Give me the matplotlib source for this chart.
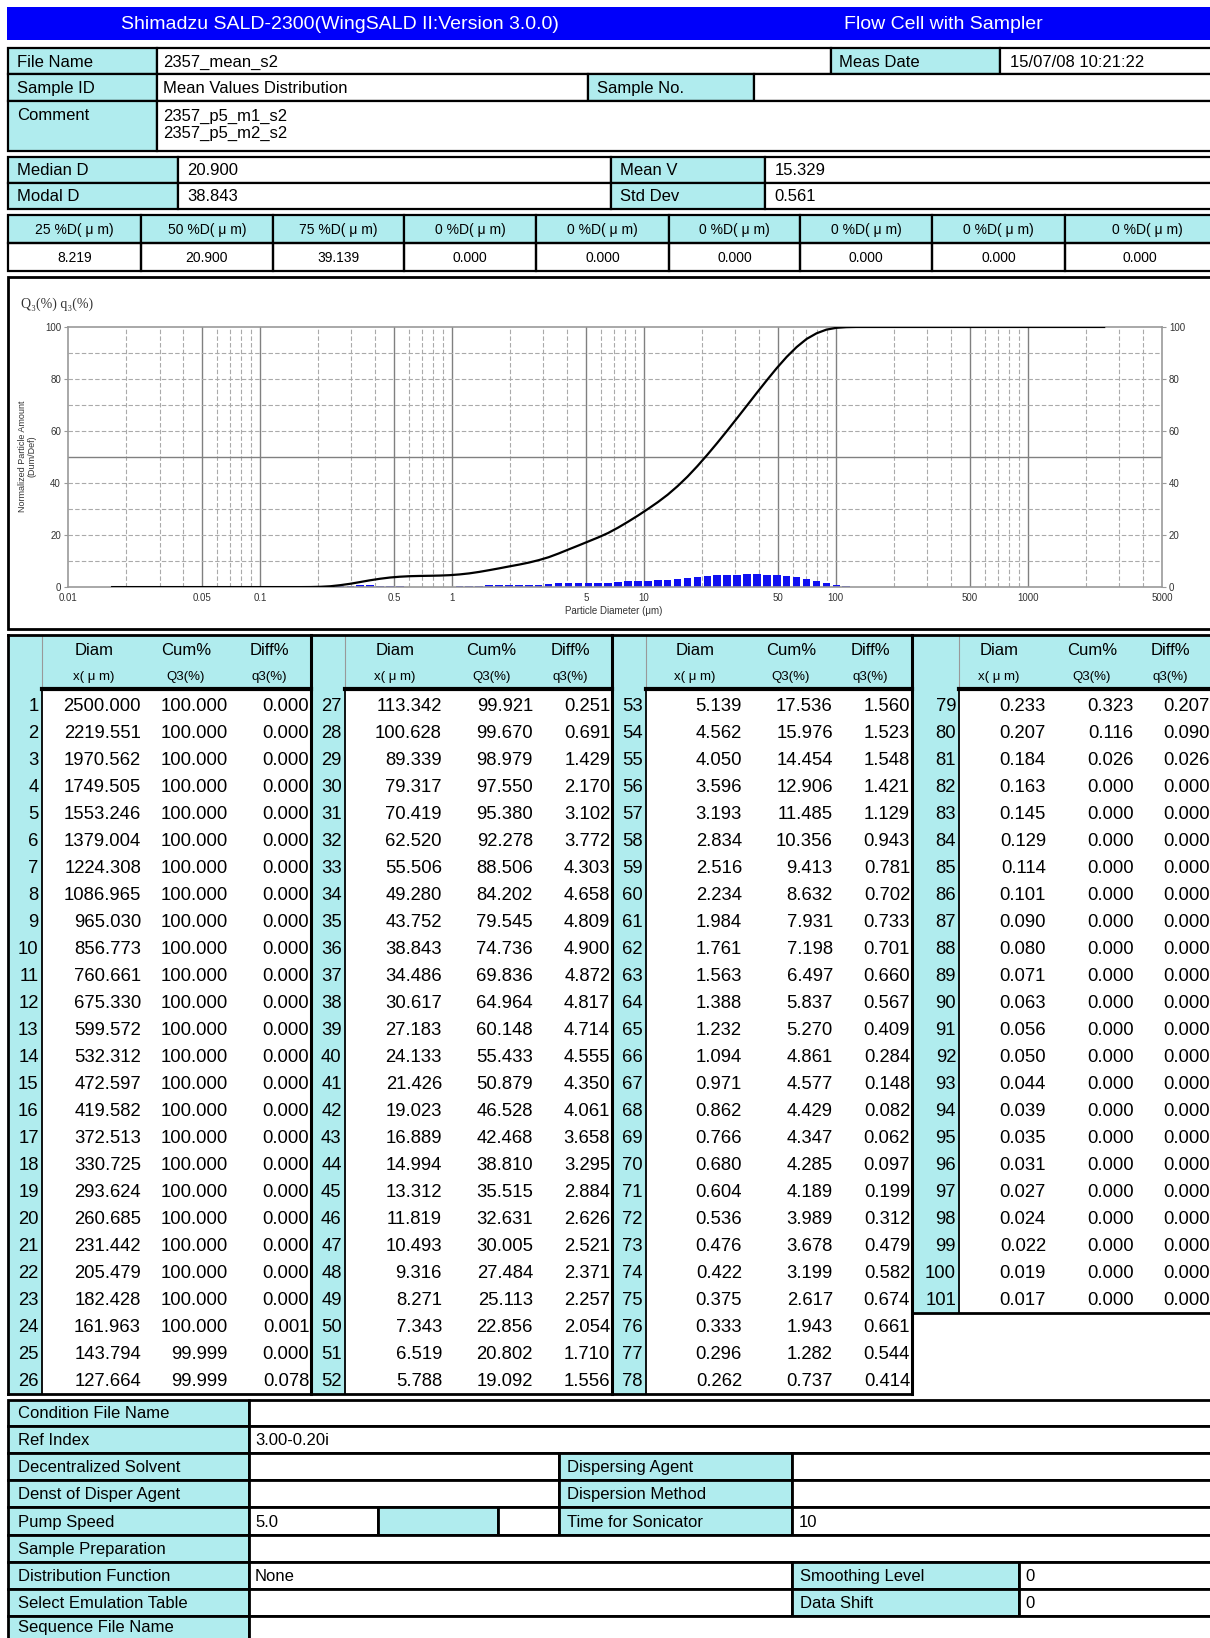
import numpy as np
import matplotlib
matplotlib.use("Agg")
import matplotlib.pyplot as plt
from matplotlib.patches import Rectangle

plt.rcParams['font.family'] = ['Liberation Sans', 'DejaVu Sans']

CYAN = '#b0ecee'
BLUE = '#0000fa'

# --- particle size table (rows 1..101) ---
diam = [2500.000, 2219.551, 1970.562, 1749.505, 1553.246, 1379.004, 1224.308, 1086.965,
        965.030, 856.773, 760.661, 675.330, 599.572, 532.312, 472.597, 419.582, 372.513,
        330.725, 293.624, 260.685, 231.442, 205.479, 182.428, 161.963, 143.794, 127.664,
        113.342, 100.628, 89.339, 79.317, 70.419, 62.520, 55.506, 49.280, 43.752, 38.843,
        34.486, 30.617, 27.183, 24.133, 21.426, 19.023, 16.889, 14.994, 13.312, 11.819,
        10.493, 9.316, 8.271, 7.343, 6.519, 5.788,
        5.139, 4.562, 4.050, 3.596, 3.193, 2.834, 2.516, 2.234, 1.984, 1.761, 1.563, 1.388,
        1.232, 1.094, 0.971, 0.862, 0.766, 0.680, 0.604, 0.536, 0.476, 0.422, 0.375, 0.333,
        0.296, 0.262,
        0.233, 0.207, 0.184, 0.163, 0.145, 0.129, 0.114, 0.101, 0.090, 0.080, 0.071, 0.063,
        0.056, 0.050, 0.044, 0.039, 0.035, 0.031, 0.027, 0.024, 0.022, 0.019, 0.017]
cum = [100.000] * 24 + [99.999, 99.999,
       99.921, 99.670, 98.979, 97.550, 95.380, 92.278, 88.506, 84.202, 79.545, 74.736,
       69.836, 64.964, 60.148, 55.433, 50.879, 46.528, 42.468, 38.810, 35.515, 32.631,
       30.005, 27.484, 25.113, 22.856, 20.802, 19.092,
       17.536, 15.976, 14.454, 12.906, 11.485, 10.356, 9.413, 8.632, 7.931, 7.198, 6.497,
       5.837, 5.270, 4.861, 4.577, 4.429, 4.347, 4.285, 4.189, 3.989, 3.678, 3.199, 2.617,
       1.943, 1.282, 0.737,
       0.323, 0.116, 0.026] + [0.000] * 20
diff = [0.000] * 23 + [0.001, 0.000, 0.078,
        0.251, 0.691, 1.429, 2.170, 3.102, 3.772, 4.303, 4.658, 4.809, 4.900, 4.872, 4.817,
        4.714, 4.555, 4.350, 4.061, 3.658, 3.295, 2.884, 2.626, 2.521, 2.371, 2.257, 2.054,
        1.710, 1.556,
        1.560, 1.523, 1.548, 1.421, 1.129, 0.943, 0.781, 0.702, 0.733, 0.701, 0.660, 0.567,
        0.409, 0.284, 0.148, 0.082, 0.062, 0.097, 0.199, 0.312, 0.479, 0.582, 0.674, 0.661,
        0.544, 0.414,
        0.207, 0.090, 0.026] + [0.000] * 20

pct_labels = ["25 %D( μ m)", "50 %D( μ m)", "75 %D( μ m)"] + ["0 %D( μ m)"] * 6
pct_values = ["8.219", "20.900", "39.139"] + ["0.000"] * 6

x_ticks = [0.01, 0.05, 0.1, 0.5, 1, 5, 10, 50, 100, 500, 1000, 5000]
x_tick_labels = ["0.01", "0.05", "0.1", "0.5", "1", "5", "10", "50", "100", "500", "1000", "5000"]

fig = plt.figure(figsize=(12.1, 16.38), dpi=100)
W, H = 1158, 1568
R = W + 20
bg = fig.add_axes([0, 0, 1, 1])
bg.set_xlim(0, W)
bg.set_ylim(H, 0)
bg.axis('off')


def cell(x0, y0, x1, y1, text=None, fill='white', ha='left', pad=8, size=12, lw=1.6,
         ty=None, **kw):
    bg.add_patch(Rectangle((x0, y0), x1 - x0, y1 - y0, facecolor=fill,
                           edgecolor='black', lw=lw))
    if text:
        tx = {'left': x0 + pad, 'right': x1 - pad, 'center': (x0 + x1) / 2}[ha]
        if ty is None:
            ty = (y0 + y1) / 2 + 1
        bg.text(tx, ty, text, ha=ha, va='center', fontsize=size, **kw)


# header bar
bg.add_patch(Rectangle((7, 7), R, 31, facecolor=BLUE, edgecolor='none'))
bg.text(325, 23, "Shimadzu SALD-2300(WingSALD II:Version 3.0.0)", color='white',
        fontsize=14, ha='center', va='center')
bg.text(903, 23, "Flow Cell with Sampler", color='white', fontsize=14,
        ha='center', va='center')

# file info
cell(8, 46, 150, 71, "File Name", CYAN)
cell(150, 46, 795, 71, "2357_mean_s2", pad=6)
cell(795, 46, 957, 71, "Meas Date", CYAN)
cell(957, 46, R, 71, "15/07/08 10:21:22", pad=10)
cell(8, 71, 150, 97, "Sample ID", CYAN)
cell(150, 71, 563, 97, "Mean Values Distribution", pad=6)
cell(563, 71, 722, 97, "Sample No.", CYAN)
cell(722, 71, R, 97)
cell(8, 97, 150, 145, None, CYAN)
bg.text(16, 111, "Comment", fontsize=12, va='center')
cell(150, 97, R, 145)
bg.text(156, 111, "2357_p5_m1_s2", fontsize=12, va='center')
bg.text(156, 128, "2357_p5_m2_s2", fontsize=12, va='center')

# median / mean
cell(8, 150, 170, 175, "Median D", CYAN)
cell(170, 150, 585, 175, "20.900", pad=9)
cell(585, 150, 732, 175, "Mean V", CYAN)
cell(732, 150, R, 175, "15.329", pad=9)
cell(8, 175, 170, 200, "Modal D", CYAN)
cell(170, 175, 585, 200, "38.843", pad=9)
cell(585, 175, 732, 200, "Std Dev", CYAN)
cell(732, 175, R, 200, "0.561", pad=9)

# percentile diameters
edges = [8, 135, 261, 387, 513, 640, 766, 892, 1019, R]
for i in range(9):
    cell(edges[i], 206, edges[i + 1], 233, pct_labels[i], CYAN,
         ha='center', size=10)
    bg.text((edges[i] + (edges[i + 1] if i < 8 else 1162)) / 2, 247, pct_values[i],
            ha='center', va='center', fontsize=10)
    bg.add_patch(Rectangle((edges[i], 233), edges[i + 1] - edges[i], 26,
                           facecolor='none', edgecolor='black', lw=1.6))

# chart frame
bg.add_patch(Rectangle((8, 265), R, 337, facecolor='white', edgecolor='black', lw=2))
bg.text(20, 291, "Q₃(%) q₃(%)", fontsize=10, va='center', color='#333333',
        family=['Liberation Serif', 'DejaVu Serif'])
bg.text(26, 437, "Normalized Particle Amount\n(Dum/Def)", rotation=90, fontsize=6.5,
        ha='center', va='center', color='#333333', linespacing=1.0)
bg.text(587, 585, "Particle Diameter (μm)", fontsize=7, ha='center', va='center',
        color='#333333')

ax = fig.add_axes([65 / W, 1 - 562 / H, (1112 - 65) / W, (562 - 313) / H])
ax.set_xscale('log')
ax.set_xlim(0.01, 5000)
ax.set_ylim(0, 100)

solid = {0.05, 0.1, 0.5, 1, 5, 10, 50, 100, 500, 1000}
for dec in [0.01, 0.1, 1, 10, 100, 1000]:
    for m in range(1, 10):
        v = round(m * dec, 6)
        if v <= 0.01 or v >= 5000:
            continue
        if v in solid:
            ax.axvline(v, color='#808080', lw=1.0, zorder=0)
        else:
            ax.axvline(v, color='#aaaaaa', lw=0.8, ls=(0, (4, 2)), zorder=0)
for yv in range(10, 100, 10):
    if yv == 50:
        ax.axhline(yv, color='#808080', lw=1.0, zorder=0)
    else:
        ax.axhline(yv, color='#aaaaaa', lw=0.8, ls=(0, (4, 2)), zorder=0)

d = np.array(diam)
ratio = np.mean(d[:-1] / d[1:])
lo = d * ratio ** -0.38
hi = d * ratio ** 0.38
ax.bar(lo, diff, width=hi - lo, align='edge', color='#1010f0', zorder=2)

order = np.argsort(d)
ax.plot(d[order], np.array(cum)[order], color='black', lw=1.6, zorder=3)

for s in ax.spines.values():
    s.set_color('#999999')
    s.set_linewidth(1.2)
ax.set_xticks(x_ticks)
ax.set_xticklabels(x_tick_labels)
ax.xaxis.set_minor_locator(plt.NullLocator())
ax.set_yticks(range(0, 101, 20))
ax.tick_params(axis='x', length=0, labelsize=7, pad=4, labelcolor='#333333')
ax.tick_params(axis='y', length=3, labelsize=7, right=True, labelright=True,
               color='#999999', pad=2, labelcolor='#333333')

# data table
top, hmid, hbot, bot = 608, 635, 660, 1334
row_h = (bot - 662) / 26
bg.add_patch(Rectangle((8, top), R, hbot - top, facecolor=CYAN, edgecolor='none'))
idx_x0 = [8, 298, 586, 873]
idx_x1 = [40, 330, 618, 918]
data_x1 = [298, 586, 873, R]
val_r = [(135, 218, 296), (423, 510, 584), (710, 797, 871), (1001, 1085, 1158)]
for g in range(4):
    n = 26 if g < 3 else 23
    start = g * 26
    yb = 662 + n * row_h
    bg.add_patch(Rectangle((idx_x0[g], hbot), idx_x1[g] - idx_x0[g], yb - hbot,
                           facecolor=CYAN, edgecolor='none'))
    bg.plot([idx_x1[g], idx_x1[g]], [hbot, yb], color='black', lw=1.3)
    bg.plot([idx_x1[g], idx_x1[g]], [top, hbot], color='#999999', lw=0.8)
    bg.plot([idx_x1[g], data_x1[g]], [hbot, hbot], color='black', lw=3)
    dr, cr, fr = val_r[g]
    bg.text(dr - 45, (top + hmid) / 2 + 1, "Diam", ha='center', va='center', fontsize=12)
    bg.text(cr - 40, (top + hmid) / 2 + 1, "Cum%", ha='center', va='center', fontsize=12)
    bg.text(fr - 38, (top + hmid) / 2 + 1, "Diff%", ha='center', va='center', fontsize=12)
    bg.text(dr - 45, (hmid + hbot) / 2 + 1, "x( μ m)", ha='center', va='center', fontsize=9.5)
    bg.text(cr - 40, (hmid + hbot) / 2 + 1, "Q3(%)", ha='center', va='center', fontsize=9.5)
    bg.text(fr - 38, (hmid + hbot) / 2 + 1, "q3(%)", ha='center', va='center', fontsize=9.5)
    for i in range(n):
        k = start + i
        y = 662 + (i + 0.5) * row_h + 1
        bg.text(idx_x1[g] - 3, y, str(k + 1), ha='right', va='center', fontsize=13.3)
        bg.text(dr, y, f"{diam[k]:.3f}", ha='right', va='center', fontsize=13.3)
        bg.text(cr, y, f"{cum[k]:.3f}", ha='right', va='center', fontsize=13.3)
        bg.text(fr, y, f"{diff[k]:.3f}", ha='right', va='center', fontsize=13.3)
    if g == 3:
        bg.plot([idx_x0[g], R], [yb, yb], color='black', lw=2)
for xv in idx_x0[1:]:
    bg.plot([xv, xv], [top, bot], color='black', lw=2.2)
bg.plot([8, R], [top, top], color='black', lw=2)
bg.plot([8, 873], [bot, bot], color='black', lw=2)
bg.plot([8, 8], [top, bot], color='black', lw=2)

# measurement conditions
ye = [1340, 1365, 1391, 1417, 1443, 1469, 1495, 1521, 1547, 1580]
cond_rows = [
    ("Condition File Name", [(238, R, "", 'white')]),
    ("Ref Index", [(238, R, "3.00-0.20i", 'white')]),
    ("Decentralized Solvent", [(238, 535, "", 'white'), (535, 758, "Dispersing Agent", CYAN),
                               (758, R, "", 'white')]),
    ("Denst of Disper Agent", [(238, 535, "", 'white'), (535, 758, "Dispersion Method", CYAN),
                               (758, R, "", 'white')]),
    ("Pump Speed", [(238, 362, "5.0", 'white'), (362, 477, "", CYAN), (477, 535, "", 'white'),
                    (535, 758, "Time for Sonicator", CYAN), (758, R, "10", 'white')]),
    ("Sample Preparation", [(238, R, "", 'white')]),
    ("Distribution Function", [(238, 758, "None", 'white'), (758, 975, "Smoothing Level", CYAN),
                               (975, R, "0", 'white')]),
    ("Select Emulation Table", [(238, 758, "", 'white'), (758, 975, "Data Shift", CYAN),
                                (975, R, "0", 'white')]),
    ("Sequence File Name", [(238, R, "", 'white')]),
]
for r, (label, parts) in enumerate(cond_rows):
    y0, y1 = ye[r], ye[r + 1]
    ty = 1558 if r == len(cond_rows) - 1 else None
    cell(8, y0, 238, y1, label, CYAN, pad=9, lw=2, ty=ty)
    for x0, x1, txt, fc in parts:
        cell(x0, y0, x1, y1, txt, fc, pad=8 if fc == CYAN else 6, lw=2)

fig.savefig("out.png", dpi=100)
